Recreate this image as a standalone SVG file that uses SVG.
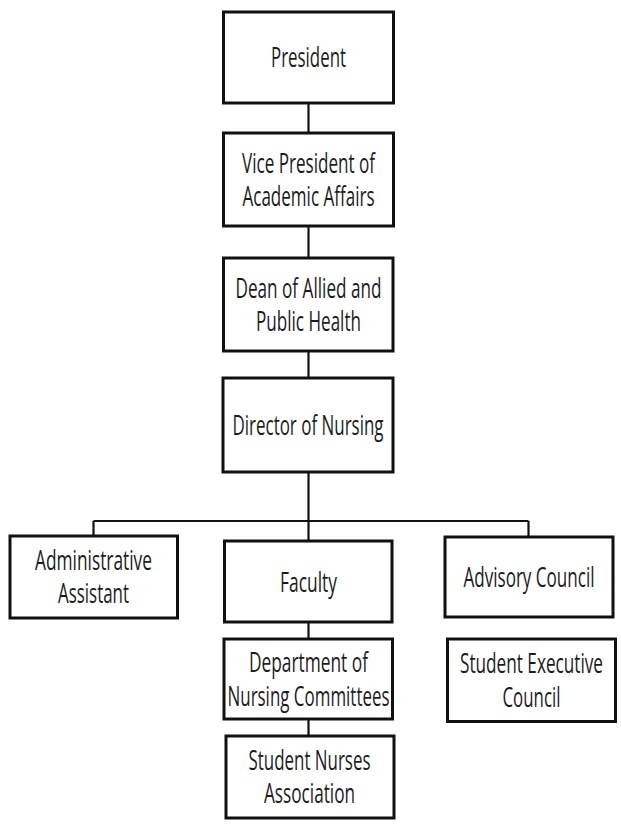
<svg xmlns="http://www.w3.org/2000/svg" width="621" height="824" viewBox="0 0 621 824">
  <style>
    .box { fill: #ffffff; stroke: #111111; stroke-width: 3; }
    .link { fill: none; stroke: #111111; stroke-width: 2.2; }
    .label { font-family: "Open Sans", "Liberation Sans", sans-serif; font-size: 27.5px; fill: #1c1c1c; text-anchor: middle; }
  </style>
  <rect width="621" height="824" fill="#ffffff"/>

  <!-- reporting lines -->
  <g id="connectors" class="link">
    <path d="M308.5 103 V133"/>
    <path d="M308.5 226 V258"/>
    <path d="M308.5 351 V378"/>
    <path d="M308.5 472 V521"/>
    <path d="M93.5 521 H528.5"/>
    <path d="M93.5 521 V536"/>
    <path d="M308.5 521 V541"/>
    <path d="M528.5 521 V537"/>
    <path d="M308.5 622 V639"/>
    <path d="M308.5 719 V736"/>
  </g>

  <g id="president">
    <rect class="box" x="223.5" y="12" width="170" height="91"/>
    <text class="label" x="308.5" y="67" textLength="75" lengthAdjust="spacingAndGlyphs">President</text>
  </g>

  <g id="vp-academic-affairs">
    <rect class="box" x="223.5" y="133" width="170" height="93"/>
    <text class="label" x="308.5" y="173" textLength="133" lengthAdjust="spacingAndGlyphs">Vice President of</text>
    <text class="label" x="308.5" y="206" textLength="132" lengthAdjust="spacingAndGlyphs">Academic Affairs</text>
  </g>

  <g id="dean-allied-public-health">
    <rect class="box" x="223.5" y="258" width="169.5" height="93"/>
    <text class="label" x="308.5" y="297.5" textLength="146" lengthAdjust="spacingAndGlyphs">Dean of Allied and</text>
    <text class="label" x="308.5" y="331" textLength="105" lengthAdjust="spacingAndGlyphs">Public Health</text>
  </g>

  <g id="director-nursing">
    <rect class="box" x="223" y="378" width="170" height="94"/>
    <text class="label" x="308" y="435" textLength="151" lengthAdjust="spacingAndGlyphs">Director of Nursing</text>
  </g>

  <g id="administrative-assistant">
    <rect class="box" x="10" y="536" width="167.5" height="82"/>
    <text class="label" x="93.5" y="570" textLength="117" lengthAdjust="spacingAndGlyphs">Administrative</text>
    <text class="label" x="93.5" y="603" textLength="71" lengthAdjust="spacingAndGlyphs">Assistant</text>
  </g>

  <g id="faculty">
    <rect class="box" x="224.5" y="541" width="167.5" height="81"/>
    <text class="label" x="308.5" y="591.5" textLength="57" lengthAdjust="spacingAndGlyphs">Faculty</text>
  </g>

  <g id="advisory-council">
    <rect class="box" x="445" y="537" width="168" height="80"/>
    <text class="label" x="529" y="587" textLength="131" lengthAdjust="spacingAndGlyphs">Advisory Council</text>
  </g>

  <g id="nursing-committees">
    <rect class="box" x="224" y="639" width="168.5" height="80"/>
    <text class="label" x="308.5" y="672" textLength="119" lengthAdjust="spacingAndGlyphs">Department of</text>
    <text class="label" x="308.5" y="706" textLength="162" lengthAdjust="spacingAndGlyphs">Nursing Committees</text>
  </g>

  <g id="student-executive-council">
    <rect class="box" x="447.5" y="639" width="168" height="82.5"/>
    <text class="label" x="531.5" y="673" textLength="143" lengthAdjust="spacingAndGlyphs">Student Executive</text>
    <text class="label" x="531.5" y="707" textLength="58" lengthAdjust="spacingAndGlyphs">Council</text>
  </g>

  <g id="student-nurses-association">
    <rect class="box" x="226" y="736" width="168" height="82"/>
    <text class="label" x="309.5" y="770" textLength="122" lengthAdjust="spacingAndGlyphs">Student Nurses</text>
    <text class="label" x="309.5" y="803" textLength="91" lengthAdjust="spacingAndGlyphs">Association</text>
  </g>
</svg>
